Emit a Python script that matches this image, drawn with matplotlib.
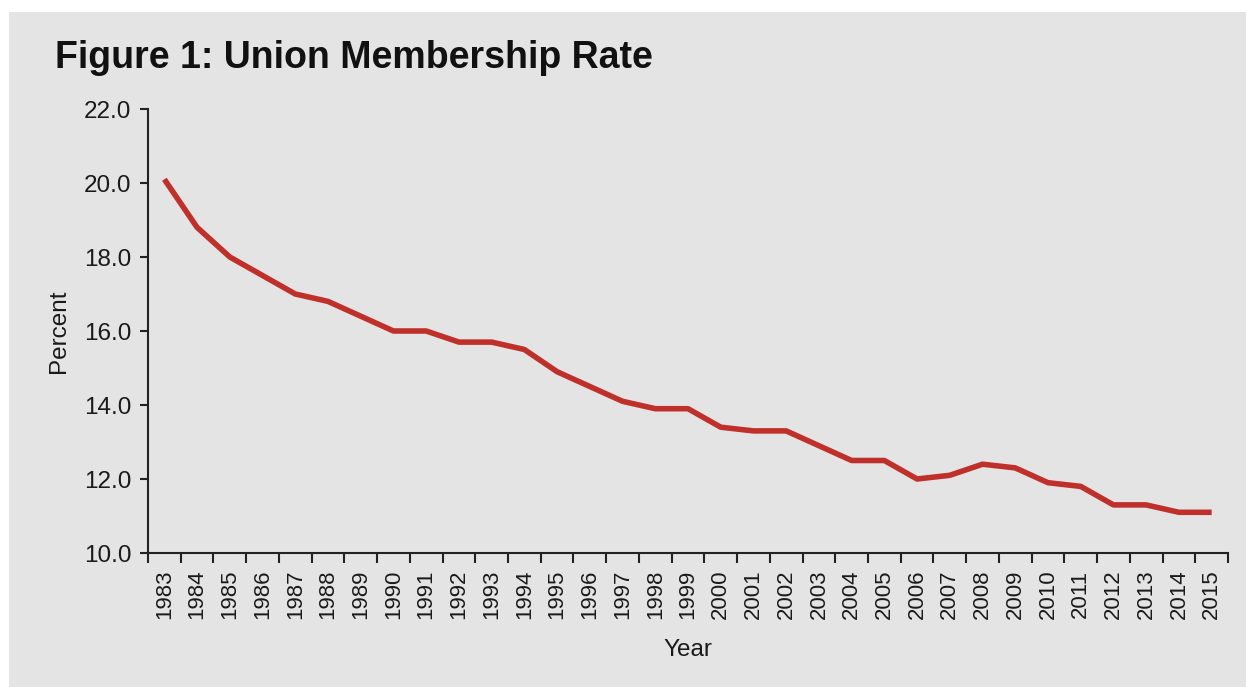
import matplotlib.pyplot as plt
from matplotlib.patches import Rectangle

years = [str(y) for y in range(1983, 2016)]
rate = [20.1, 18.8, 18.0, 17.5, 17.0, 16.8, 16.4, 16.0, 16.0, 15.7, 15.7,
        15.5, 14.9, 14.5, 14.1, 13.9, 13.9, 13.4, 13.3, 13.3, 12.9, 12.5,
        12.5, 12.0, 12.1, 12.4, 12.3, 11.9, 11.8, 11.3, 11.3, 11.1, 11.1]
yticks = [10, 12, 14, 16, 18, 20, 22]

plt.rcParams['font.family'] = ['Liberation Sans', 'DejaVu Sans']
txt = '#1a1a1a'
bg = '#e4e4e4'

fig = plt.figure(figsize=(12.46, 6.87), dpi=100)
fig.patch.set_facecolor('white')
# grey panel with thin white edge on top and left
fig.add_artist(Rectangle((9 / 1246, 0), 1, 1 - 12 / 687, transform=fig.transFigure,
                         facecolor=bg, edgecolor='none', zorder=0))

ax = fig.add_axes([148 / 1246, 1 - 553 / 687, (1228 - 148) / 1246, (553 - 109) / 687])
ax.set_facecolor('none')

x = list(range(len(years)))
ax.plot(x, rate, color='#c0302a', lw=4.0, solid_capstyle='butt', solid_joinstyle='round')

ax.set_xlim(-0.5, len(years) - 0.5)
ax.set_ylim(10, 22)

# category axis: ticks between categories, labels at centres
ax.set_xticks([i - 0.5 for i in range(len(years) + 1)])
ax.set_xticklabels([])
ax.set_xticks(x, minor=True)
ax.set_xticklabels(years, minor=True, rotation=90, fontsize=16, color=txt)
ax.tick_params(axis='x', which='major', length=7, width=1.5, color='#222222', direction='out')
ax.tick_params(axis='x', which='minor', length=0, pad=12)

ax.set_yticks(yticks)
ax.set_yticklabels([f"{v:.1f}" for v in yticks], fontsize=17.5, color=txt)
ax.tick_params(axis='y', length=6, width=1.5, color='#222222', pad=6)

for s in ['top', 'right']:
    ax.spines[s].set_visible(False)
for s in ['left', 'bottom']:
    ax.spines[s].set_linewidth(1.5)
    ax.spines[s].set_color('#222222')

ax.set_ylabel("Percent", fontsize=17.5, color=txt, labelpad=10)
ax.set_xlabel("Year", fontsize=17.5, color=txt, labelpad=14)

fig.text(55 / 1246, 1 - 68 / 687, "Figure 1: Union Membership Rate", fontsize=27,
         fontweight='bold', color='#111111', ha='left', va='baseline')

fig.savefig("out.png", dpi=100, facecolor=fig.get_facecolor())
